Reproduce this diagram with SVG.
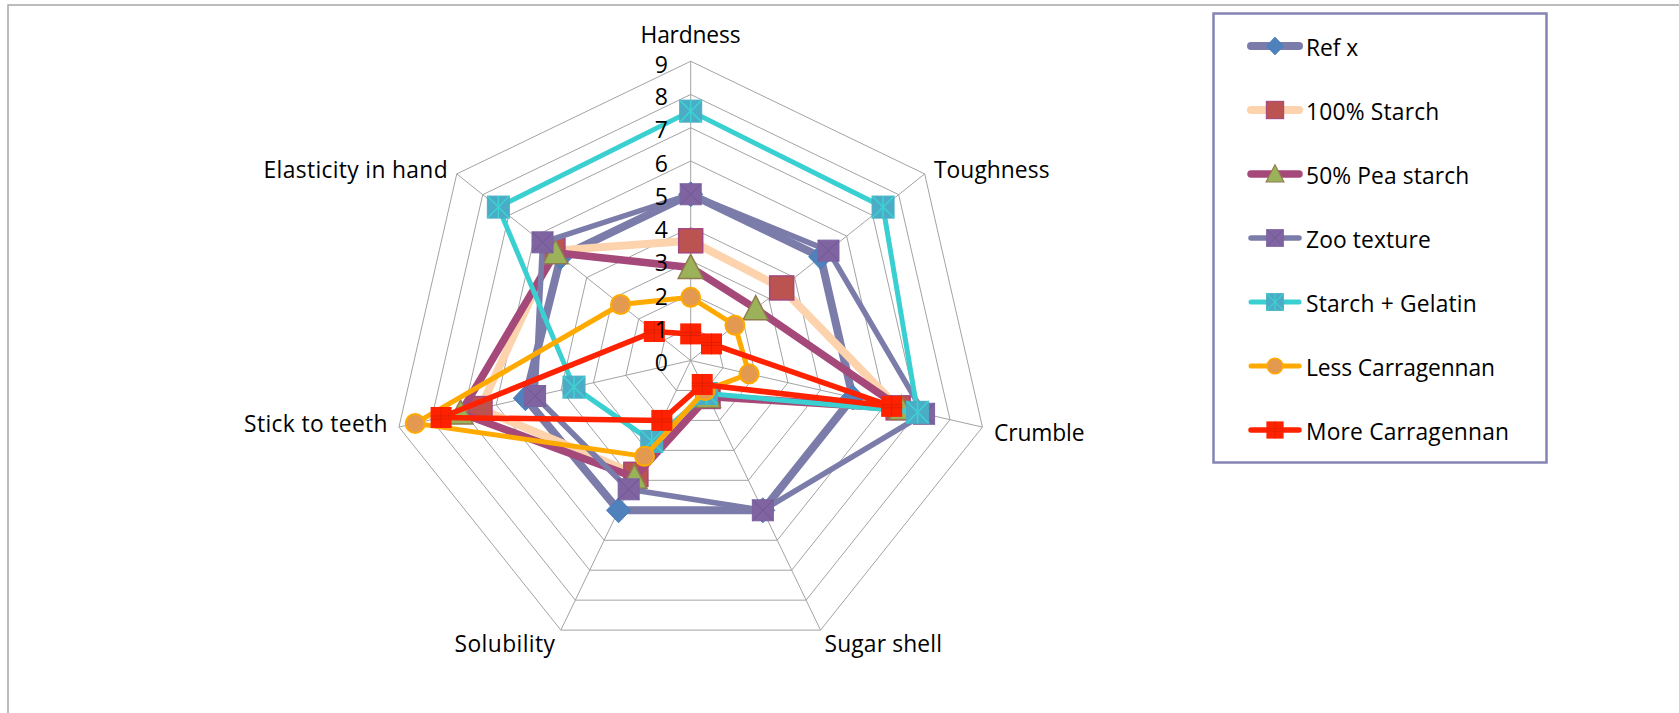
<svg xmlns="http://www.w3.org/2000/svg" xmlns:xlink="http://www.w3.org/1999/xlink" width="1679" height="713" viewBox="0 0 1679 713">
<style>
.grid{fill:none;stroke:#A3A3A3;stroke-width:1;vector-effect:non-scaling-stroke}
.spoke{fill:none;stroke:#A3A3A3;stroke-width:1}
.t{font-family:"Open Sans","Liberation Sans",sans-serif;font-size:22.8px;fill:#000}
.num{font-family:"Open Sans","Liberation Sans",sans-serif;font-size:23px;fill:#000;text-anchor:end}
.leg{font-family:"Open Sans","Liberation Sans",sans-serif;font-size:22.8px;fill:#000}
.s{fill:none;stroke-linejoin:round;stroke-linecap:round}
.ref{stroke:#7C7CAB;stroke-width:8}
.starch{stroke:#FDD3AE;stroke-width:8}
.pea{stroke:#A5487A;stroke-width:7.5}
.zoo{stroke:#7C7CAB;stroke-width:5.5}
.sg{stroke:#3ACFD0;stroke-width:5}
.less{stroke:#FFAA00;stroke-width:5}
.more{stroke:#FF2200;stroke-width:5.5}
</style>
<defs>
<g id="m-ref"><polygon points="0,-12.5 12,0 0,12.5 -12,0" fill="#4F81BD" stroke="#4A7DB8" stroke-width="1"/></g>
<g id="m-starch"><rect x="-12" y="-12" width="24" height="24" fill="#BB5451" stroke="#A3467F" stroke-width="1.5"/></g>
<g id="m-pea"><polygon points="0,-13 12.5,11 -12.5,11" fill="#9BB25A" stroke="#8F7B4C" stroke-width="1.5"/></g>
<g id="m-zoo"><rect x="-10.5" y="-10.5" width="21" height="21" fill="#8064A2" stroke="#7B62A0" stroke-width="1"/><path d="M-10.5,-10.5L10.5,10.5M10.5,-10.5L-10.5,10.5" stroke="#6C5894" stroke-width="1"/></g>
<g id="m-sg"><rect x="-11" y="-11" width="22" height="22" fill="#4BACC6" stroke="#46AFC4" stroke-width="1"/><path d="M-11,-11L11,11M11,-11L-11,11M0,-11V11" stroke="#3CD2D2" stroke-width="1.5"/></g>
<g id="m-less"><circle r="9.5" fill="#E3994F" stroke="#FFAA00" stroke-width="2"/></g>
<g id="m-more"><rect x="-10.5" y="-10.5" width="21" height="21" fill="#FF2200"/><path d="M-10.5,-1.5H10.5M-10.5,1.5H10.5M0,-10.5V10.5" stroke="#D81E00" stroke-width="0.8"/></g>
</defs>
<rect width="1679" height="713" fill="#FFFFFF"/>
<rect id="frame" x="8" y="5" width="1700" height="760" fill="#FFFFFF" stroke="#A6A6A6" stroke-width="1.5"/>
<g id="chart" transform="translate(690.7,360.5)">
<g id="grid">
<polygon class="grid" transform="scale(1)" points="0,-33.25 25.996,-20.731 32.416,7.399 14.427,29.957 -14.427,29.957 -32.416,7.399 -25.996,-20.731"/>
<polygon class="grid" transform="scale(2)" points="0,-33.25 25.996,-20.731 32.416,7.399 14.427,29.957 -14.427,29.957 -32.416,7.399 -25.996,-20.731"/>
<polygon class="grid" transform="scale(3)" points="0,-33.25 25.996,-20.731 32.416,7.399 14.427,29.957 -14.427,29.957 -32.416,7.399 -25.996,-20.731"/>
<polygon class="grid" transform="scale(4)" points="0,-33.25 25.996,-20.731 32.416,7.399 14.427,29.957 -14.427,29.957 -32.416,7.399 -25.996,-20.731"/>
<polygon class="grid" transform="scale(5)" points="0,-33.25 25.996,-20.731 32.416,7.399 14.427,29.957 -14.427,29.957 -32.416,7.399 -25.996,-20.731"/>
<polygon class="grid" transform="scale(6)" points="0,-33.25 25.996,-20.731 32.416,7.399 14.427,29.957 -14.427,29.957 -32.416,7.399 -25.996,-20.731"/>
<polygon class="grid" transform="scale(7)" points="0,-33.25 25.996,-20.731 32.416,7.399 14.427,29.957 -14.427,29.957 -32.416,7.399 -25.996,-20.731"/>
<polygon class="grid" transform="scale(8)" points="0,-33.25 25.996,-20.731 32.416,7.399 14.427,29.957 -14.427,29.957 -32.416,7.399 -25.996,-20.731"/>
<polygon class="grid" transform="scale(9)" points="0,-33.25 25.996,-20.731 32.416,7.399 14.427,29.957 -14.427,29.957 -32.416,7.399 -25.996,-20.731"/>
<path class="spoke" d="M0,0L0,-299.25M0,0L233.96,-186.58M0,0L291.74,66.59M0,0L129.84,269.61M0,0L-129.84,269.61M0,0L-291.74,66.59M0,0L-233.96,-186.58"/>
</g>
<g id="series-refx">
<polygon class="s ref" points="0,-166.25 129.98,-103.66 162.08,37 72.14,149.79 -72.14,149.79 -165.32,37.73 -129.98,-103.66"/>
<use href="#m-ref" x="0" y="-166.25"/><use href="#m-ref" x="129.98" y="-103.66"/><use href="#m-ref" x="162.08" y="37"/><use href="#m-ref" x="72.14" y="149.79"/><use href="#m-ref" x="-72.14" y="149.79"/><use href="#m-ref" x="-165.32" y="37.73"/><use href="#m-ref" x="-129.98" y="-103.66"/>
</g>
<g id="series-starch">
<polygon class="s starch" points="0,-119.7 90.99,-72.56 207.46,47.35 17.31,35.95 -54.82,113.84 -210.7,48.09 -137.78,-109.87"/>
<use href="#m-starch" x="0" y="-119.7"/><use href="#m-starch" x="90.99" y="-72.56"/><use href="#m-starch" x="207.46" y="47.35"/><use href="#m-starch" x="17.31" y="35.95"/><use href="#m-starch" x="-54.82" y="113.84"/><use href="#m-starch" x="-210.7" y="48.09"/><use href="#m-starch" x="-137.78" y="-109.87"/>
</g>
<g id="series-pea">
<polygon class="s pea" points="0,-93.1 64.99,-51.83 210.7,48.09 17.31,35.95 -56.27,116.83 -230.15,52.53 -135.18,-107.8"/>
<use href="#m-pea" x="0" y="-93.1"/><use href="#m-pea" x="64.99" y="-51.83"/><use href="#m-pea" x="210.7" y="48.09"/><use href="#m-pea" x="17.31" y="35.95"/><use href="#m-pea" x="-56.27" y="116.83"/><use href="#m-pea" x="-230.15" y="52.53"/><use href="#m-pea" x="-135.18" y="-107.8"/>
</g>
<g id="series-zoo">
<polygon class="s zoo" points="0,-166.25 137.78,-109.87 233.4,53.27 72.14,149.79 -62.04,128.82 -155.6,35.52 -148.18,-118.17"/>
<use href="#m-zoo" x="0" y="-166.25"/><use href="#m-zoo" x="137.78" y="-109.87"/><use href="#m-zoo" x="233.4" y="53.27"/><use href="#m-zoo" x="72.14" y="149.79"/><use href="#m-zoo" x="-62.04" y="128.82"/><use href="#m-zoo" x="-155.6" y="35.52"/><use href="#m-zoo" x="-148.18" y="-118.17"/>
</g>
<g id="series-sg">
<polygon class="s sg" points="0,-249.38 192.37,-153.41 226.91,51.79 15.87,32.95 -38.95,80.88 -116.7,26.64 -192.37,-153.41"/>
<use href="#m-sg" x="0" y="-249.38"/><use href="#m-sg" x="192.37" y="-153.41"/><use href="#m-sg" x="226.91" y="51.79"/><use href="#m-sg" x="15.87" y="32.95"/><use href="#m-sg" x="-38.95" y="80.88"/><use href="#m-sg" x="-116.7" y="26.64"/><use href="#m-sg" x="-192.37" y="-153.41"/>
</g>
<g id="series-less">
<polygon class="s less" points="0,-63.18 44.19,-35.24 58.35,13.32 14.43,29.96 -46.17,95.86 -275.54,62.89 -70.19,-55.97"/>
<use href="#m-less" x="0" y="-63.18"/><use href="#m-less" x="44.19" y="-35.24"/><use href="#m-less" x="58.35" y="13.32"/><use href="#m-less" x="14.43" y="29.96"/><use href="#m-less" x="-46.17" y="95.86"/><use href="#m-less" x="-275.54" y="62.89"/><use href="#m-less" x="-70.19" y="-55.97"/>
</g>
<g id="series-more">
<polygon class="s more" points="0,-26.6 20.8,-16.58 200.98,45.87 11.54,23.97 -28.85,59.91 -249.6,56.97 -36.39,-29.02"/>
<use href="#m-more" x="0" y="-26.6"/><use href="#m-more" x="20.8" y="-16.58"/><use href="#m-more" x="200.98" y="45.87"/><use href="#m-more" x="11.54" y="23.97"/><use href="#m-more" x="-28.85" y="59.91"/><use href="#m-more" x="-249.6" y="56.97"/><use href="#m-more" x="-36.39" y="-29.02"/>
</g>
</g>
<g id="axis-numbers">
<text class="num" x="668" y="371">0</text>
<text class="num" x="668" y="337.75">1</text>
<text class="num" x="668" y="304.5">2</text>
<text class="num" x="668" y="271.25">3</text>
<text class="num" x="668" y="238">4</text>
<text class="num" x="668" y="204.75">5</text>
<text class="num" x="668" y="171.5">6</text>
<text class="num" x="668" y="138.25">7</text>
<text class="num" x="668" y="105">8</text>
<text class="num" x="668" y="72.5">9</text>
</g>
<g id="axis-labels">
<text class="t" x="690.5" y="42.5" text-anchor="middle" textLength="100">Hardness</text>
<text class="t" x="934" y="177.5" textLength="115.5">Toughness</text>
<text class="t" x="994" y="440.7" textLength="90.5">Crumble</text>
<text class="t" x="824.5" y="651.5" textLength="117.5">Sugar shell</text>
<text class="t" x="555" y="651.5" text-anchor="end" textLength="100.5">Solubility</text>
<text class="t" x="387.6" y="432" text-anchor="end" textLength="143.5">Stick to teeth</text>
<text class="t" x="447.6" y="177.5" text-anchor="end" textLength="184">Elasticity in hand</text>
</g>
<g id="legend">
<rect x="1213.5" y="13.5" width="333" height="449" fill="#FFFFFF" stroke="#8585B5" stroke-width="2.5"/>
<g id="leg-refx"><line class="s ref" x1="1251" y1="46" x2="1299" y2="46"/><use href="#m-ref" transform="translate(1275,46) scale(0.72)"/><text class="leg" x="1306" y="56.3" textLength="52.3">Ref x</text></g>
<g id="leg-starch"><line class="s starch" x1="1251" y1="110" x2="1299" y2="110"/><use href="#m-starch" transform="translate(1275,110) scale(0.72)"/><text class="leg" x="1306" y="120.3" textLength="133.3">100% Starch</text></g>
<g id="leg-pea"><line class="s pea" x1="1251" y1="174" x2="1299" y2="174"/><use href="#m-pea" transform="translate(1275,174) scale(0.72)"/><text class="leg" x="1306" y="184.3" textLength="163.3">50% Pea starch</text></g>
<g id="leg-zoo"><line class="s zoo" x1="1251" y1="238" x2="1299" y2="238"/><use href="#m-zoo" transform="translate(1275,238) scale(0.8)"/><text class="leg" x="1306" y="248.3" textLength="124.7">Zoo texture</text></g>
<g id="leg-sg"><line class="s sg" x1="1251" y1="302" x2="1299" y2="302"/><use href="#m-sg" transform="translate(1275,302) scale(0.78)"/><text class="leg" x="1306" y="312.3" textLength="170.7">Starch + Gelatin</text></g>
<g id="leg-less"><line class="s less" x1="1251" y1="366" x2="1299" y2="366"/><use href="#m-less" transform="translate(1275,366) scale(0.82)"/><text class="leg" x="1306" y="376.3" textLength="189">Less Carragennan</text></g>
<g id="leg-more"><line class="s more" x1="1251" y1="430" x2="1299" y2="430"/><use href="#m-more" transform="translate(1275,430) scale(0.82)"/><text class="leg" x="1306" y="440.3" textLength="203">More Carragennan</text></g>
</g>
</svg>
